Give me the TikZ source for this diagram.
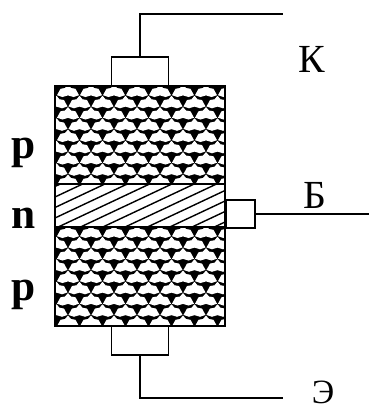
\documentclass[tikz,border=0pt]{standalone}
\usepackage{fontspec}
\setmainfont{Liberation Serif}
\usepackage{xcolor}
\usepackage{tikz}
\tikzset{
  contact/.style={draw,line width=1.6pt,fill=white,inner sep=0pt},
  lead/.style={line width=1.6pt},
  divider/.style={line width=1.6pt},
  letter/.style={font=\fontsize{34}{34}\selectfont,inner sep=0pt,anchor=base},
  layer/.style={font=\fontsize{37}{37}\selectfont\bfseries,inner sep=0pt,anchor=base},
  meshcell/.pic={\fill[white] (-11,4.2) -- (-7.5,-2.2) -- (-3,-3) -- (0,-6.5) -- (3,-3) -- (7.5,-2.2) -- (11,4.2) -- (5.5,6) -- (0,4.4) -- (-5.5,6) -- cycle;}
}
\begin{document}
\begin{tikzpicture}[x=0.03cm,y=-0.03cm]
            \useasboundingbox (0,0) rectangle (369,407);

            % p layers
            \fill (55,86) rectangle (225,184);
            \fill (55,227) rectangle (225,326);
            \begin{scope}
            \clip (55,86) rectangle (225,184) (55,227) rectangle (225,326);
            \foreach \j in {0,...,8} {
                \pgfmathsetmacro{\shift}{mod(\j,2)*11.5}
                \foreach \i in {0,...,8} {
                    \pic at ({45+\shift+23*\i},{91+11.25*\j}) {meshcell};
                    \pic at ({45+\shift+23*\i},{322-11.25*\j}) {meshcell};
                }
            }
            \end{scope}

            % n layer
            \begin{scope}
            \clip (55,184) rectangle (225,227);
            \foreach \k in {-2,...,10} {
                \draw[line width=1.2pt] (55,197+10.5*\k) -- ++(170,-80);
            }
            \end{scope}

            \node [draw,line width=1.8pt,minimum width=5.1cm,minimum height=7.2cm] (body) at (140,206) {};
            \draw[divider] (body.west |- 0,184) -- (body.east |- 0,184);
            \draw[divider] (body.west |- 0,227) -- (body.east |- 0,227);

            \node [contact,minimum width=1.71cm,minimum height=0.87cm] (C) at (140,71.5) {};
            \node [contact,minimum width=1.71cm,minimum height=0.87cm] (E) at (140,340.5) {};
            \node [contact,minimum width=0.87cm,minimum height=0.84cm] (B) at (240.5,214) {};

            \coordinate (Cend) at (283,14);
            \coordinate (Eend) at (283,398);
            \coordinate (Bend) at (369,214);
            \draw[lead] (C.north) |- (Cend);
            \draw[lead] (E.south) |- (Eend);
            \draw[lead] (B.east) -- (Bend);

            \node [letter] (K) at (311.5,72) {К};
            \node [letter] (Bl) at (315,208) {Б};
            \node [letter,font=\fontsize{29}{29}\selectfont] (Z) at (323,403) {Э};

            \node [layer] (P1) at (24,158) {p};
            \node [layer] (N) at (24,228) {n};
            \node [layer] (P2) at (24,300) {p};
\end{tikzpicture}
\end{document}
